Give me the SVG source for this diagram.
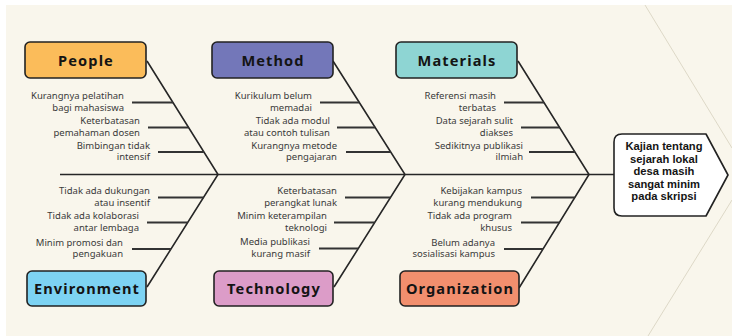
<svg xmlns="http://www.w3.org/2000/svg" width="732" height="336" viewBox="0 0 732 336">
  <style>
    .box { stroke: #222; stroke-width: 1.6; }
    .cat { font-family: "Noto Sans", "DejaVu Sans", sans-serif; font-weight: 700; font-size: 14.6px; letter-spacing: 1.1px; fill: #141414; text-anchor: middle; }
    .cause { font-family: "Noto Sans", "DejaVu Sans", sans-serif; font-size: 9.5px; fill: #3a3a3a; text-anchor: end; }
    .head { font-family: "Liberation Sans", Arial, sans-serif; font-weight: 700; font-size: 11.2px; fill: #141414; text-anchor: middle; }
    .bone { stroke: #262626; stroke-width: 1.6; fill: none; }
    .rib { stroke: #333; stroke-width: 1.8; fill: none; }
    .deco { stroke: #ddd8c7; stroke-width: 1; fill: none; }
  </style>

  <!-- page -->
  <rect x="0" y="0" width="732" height="336" fill="#ffffff"/>
  <rect x="6" y="5" width="726" height="331" fill="#f9f6ec"/>
  <path class="deco" d="M645 5 L732 148 M732 200 L648 336"/>

  <!-- connectors: spine, diagonal bones and cause ribs -->
  <g id="connectors">
    <path class="bone" d="M60 174.5 H614"/>
    <path class="bone" d="M147 61 L218 174.5 L147 287"/>
    <path class="bone" d="M333 61 L405 174.5 L334 287"/>
    <path class="bone" d="M518 61 L589 174.5 L519 288"/>

    <path class="rib" d="M132 102.5 H173 M148 127.5 H188.6 M158 152 H203.9"/>
    <path class="rib" d="M320 102.5 H359.3 M337 127.5 H375.2 M346 152 H390.7"/>
    <path class="rib" d="M504 102.5 H544 M521 127.5 H559.6 M529 152 H574.9"/>
    <path class="rib" d="M158 197.5 H203.5 M147 222.5 H187.7 M132 249 H171"/>
    <path class="rib" d="M345 197.5 H390.5 M334 222.5 H374.7 M319 248.5 H358"/>
    <path class="rib" d="M531 197.5 H574.8 M521 222.5 H559.4 M504 249 H543"/>
  </g>

  <g id="people">
    <rect class="box" x="25" y="42" width="121" height="36" rx="5" fill="#fbbc5a"/>
    <text class="cat" x="86" y="65.5">People</text>
    <text class="cause"><tspan x="124" y="99">Kurangnya pelatihan</tspan><tspan x="124" y="110.5">bagi mahasiswa</tspan></text>
    <text class="cause"><tspan x="140" y="124">Keterbatasan</tspan><tspan x="140" y="135.5">pemahaman dosen</tspan></text>
    <text class="cause"><tspan x="150" y="148.5">Bimbingan tidak</tspan><tspan x="150" y="160">intensif</tspan></text>
  </g>

  <g id="method">
    <rect class="box" x="212" y="42" width="121" height="36" rx="5" fill="#7377b9"/>
    <text class="cat" x="273" y="65.5">Method</text>
    <text class="cause"><tspan x="312" y="99">Kurikulum belum</tspan><tspan x="312" y="110.5">memadai</tspan></text>
    <text class="cause"><tspan x="330" y="124">Tidak ada modul</tspan><tspan x="330" y="135.5">atau contoh tulisan</tspan></text>
    <text class="cause"><tspan x="337" y="148.5">Kurangnya metode</tspan><tspan x="337" y="160">pengajaran</tspan></text>
  </g>

  <g id="materials">
    <rect class="box" x="396" y="42" width="121" height="36" rx="5" fill="#8ed5d3"/>
    <text class="cat" x="457" y="65.5">Materials</text>
    <text class="cause"><tspan x="496" y="99">Referensi masih</tspan><tspan x="496" y="110.5">terbatas</tspan></text>
    <text class="cause"><tspan x="513" y="124">Data sejarah sulit</tspan><tspan x="513" y="135.5">diakses</tspan></text>
    <text class="cause"><tspan x="523" y="148.5">Sedikitnya publikasi</tspan><tspan x="523" y="160">ilmiah</tspan></text>
  </g>

  <g id="environment">
    <rect class="box" x="27" y="271" width="119" height="35" rx="5" fill="#7dd3f3"/>
    <text class="cat" x="87" y="293.5">Environment</text>
    <text class="cause"><tspan x="150" y="194">Tidak ada dukungan</tspan><tspan x="150" y="205.5">atau insentif</tspan></text>
    <text class="cause"><tspan x="139" y="219">Tidak ada kolaborasi</tspan><tspan x="139" y="230.5">antar lembaga</tspan></text>
    <text class="cause"><tspan x="123" y="245.5">Minim promosi dan</tspan><tspan x="123" y="257">pengakuan</tspan></text>
  </g>

  <g id="technology">
    <rect class="box" x="214" y="271" width="119" height="35" rx="5" fill="#dc9cc8"/>
    <text class="cat" x="274" y="293.5">Technology</text>
    <text class="cause"><tspan x="337" y="194">Keterbatasan</tspan><tspan x="337" y="205.5">perangkat lunak</tspan></text>
    <text class="cause"><tspan x="327" y="219">Minim keterampilan</tspan><tspan x="327" y="230.5">teknologi</tspan></text>
    <text class="cause"><tspan x="310" y="245">Media publikasi</tspan><tspan x="310" y="256.5">kurang masif</tspan></text>
  </g>

  <g id="organization">
    <rect class="box" x="400" y="271" width="119" height="35" rx="5" fill="#f28f6e"/>
    <text class="cat" x="460" y="293.5">Organization</text>
    <text class="cause"><tspan x="522" y="194">Kebijakan kampus</tspan><tspan x="522" y="205.5">kurang mendukung</tspan></text>
    <text class="cause"><tspan x="512" y="219">Tidak ada program</tspan><tspan x="512" y="230.5">khusus</tspan></text>
    <text class="cause"><tspan x="495" y="245.5">Belum adanya</tspan><tspan x="495" y="257">sosialisasi kampus</tspan></text>
  </g>

  <g id="problem">
    <path class="box" fill="#ffffff" stroke-linejoin="round" d="M622 134 H706 L728 175 L706 216 H622 Q614 216 614 208 V142 Q614 134 622 134 Z"/>
    <text class="head"><tspan x="664" y="150">Kajian tentang</tspan><tspan x="664" y="162.5">sejarah lokal</tspan><tspan x="664" y="175">desa masih</tspan><tspan x="664" y="187.5">sangat minim</tspan><tspan x="664" y="200">pada skripsi</tspan></text>
  </g>
</svg>
